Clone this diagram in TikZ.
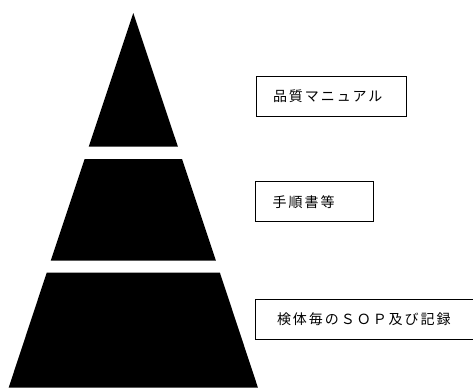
\documentclass[tikz,border=0pt]{standalone}
\usepackage{fontspec}
\newfontfamily\jpfont[LetterSpace=14]{Noto Sans CJK JP}
\begin{document}
\begin{tikzpicture}[x=1pt,y=-1pt,
  layer/.style={fill=black,draw=none},
  labelbox/.style={draw=black,line width=1pt,fill=white,minimum height=40pt,
    inner xsep=17pt,align=left,font=\jpfont\fontsize{14pt}{16pt}\selectfont}]
\useasboundingbox (0,0) rectangle (473,388);
\clip (0,0) rectangle (473,388);
% pyramid layers
\fill[layer] (133.3,13) -- (177.9,146.7) -- (88.7,146.7) -- cycle;
\fill[layer] (84.6,159) -- (182.0,159) -- (215.9,260.7) -- (50.7,260.7) -- cycle;
\fill[layer] (46.7,272.7) -- (219.9,272.7) -- (257.9,387.5) -- (8.7,387.5) -- cycle;
% labels
\node[labelbox,text width=116pt] (b1) at (331,96.7) {品質マニュアル};
\node[labelbox,text width=83.6pt] (b2) at (314.5,201.7) {手順書等};
\node[labelbox,text width=176pt,inner xsep=22pt] (b3) at (365,319.2) {検体毎のＳＯＰ及び記録};
\end{tikzpicture}
\end{document}
